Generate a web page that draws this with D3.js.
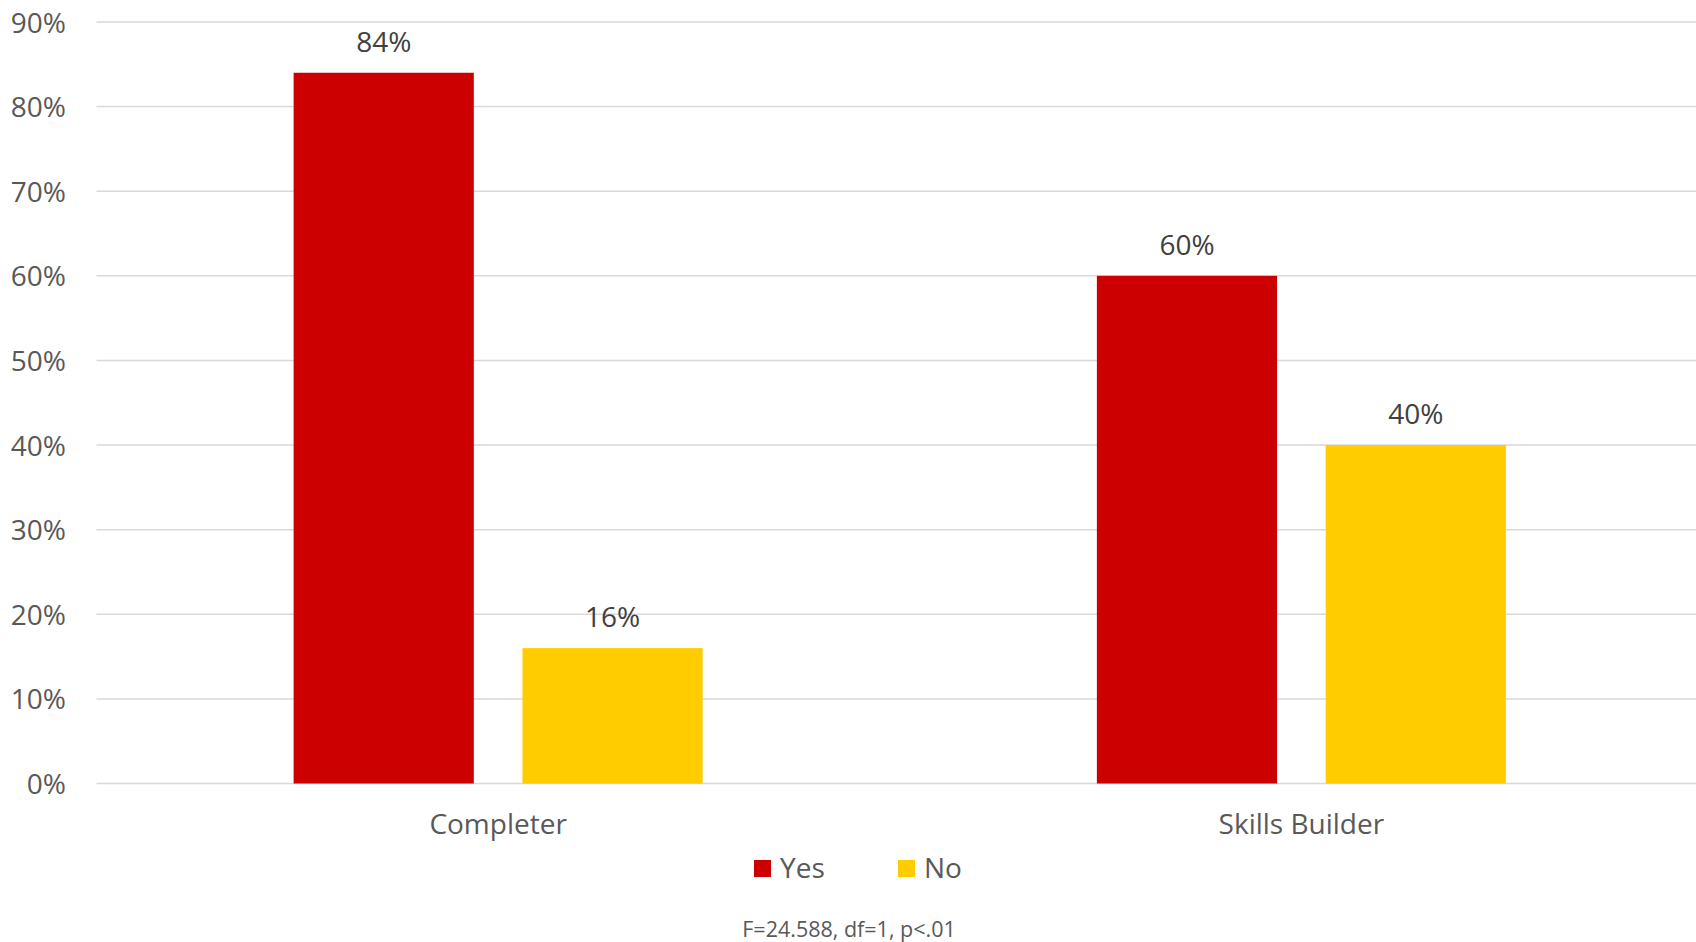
<!DOCTYPE html>
<html>
<head>
<meta charset="utf-8">
<script src="https://cdn.jsdelivr.net/npm/d3@7"></script>
<style>
  html, body { margin: 0; padding: 0; background: #fff; }
  svg { display: block; font-family: "Open Sans", "Noto Sans", sans-serif; }
</style>
</head>
<body>
<svg id="chart" width="1696" height="942"></svg>
<script>
const categories = ["Completer", "Skills Builder"];
const seriesNames = ["Yes", "No"];
const yesValues = [0.84, 0.60];
const noValues = [0.16, 0.40];
const tickValues = [0, 0.1, 0.2, 0.3, 0.4, 0.5, 0.6, 0.7, 0.8, 0.9];
const colors = ["#cc0000", "#ffcc00"];
const footnote = "F=24.588, df=1, p<.01";

const seriesValues = [yesValues, noValues];
const data = categories.map((c, i) => ({
  category: c,
  values: seriesNames.map((s, j) => ({ series: s, value: seriesValues[j][i], color: colors[j] }))
}));

const svg = d3.select("#chart");
const W = 1696;

const y = d3.scaleLinear().domain([0, 0.9]).range([783.5, 22]);
const x0 = d3.scaleBand().domain(categories).range([96.5, 1703]).paddingInner(0).paddingOuter(0);
const groupW = 409;
const x1 = d3.scaleBand().domain(seriesNames)
  .range([(x0.bandwidth() - groupW) / 2, (x0.bandwidth() + groupW) / 2])
  .paddingInner(0.2125).paddingOuter(0);

// gridlines
svg.append("g").selectAll("line").data(tickValues).join("line")
  .attr("x1", 96.5).attr("x2", W)
  .attr("y1", d => y(d)).attr("y2", d => y(d))
  .attr("stroke", "#d9d9d9").attr("stroke-width", 1.5);

// y axis labels
const yAxis = d3.axisLeft(y).tickValues(tickValues).tickFormat(d3.format(".0%")).tickSize(0).tickPadding(0);
const yg = svg.append("g").attr("transform", "translate(66,0)").call(yAxis);
yg.select(".domain").remove();
yg.selectAll("text").attr("font-size", 28).attr("fill", "#595959")
  .attr("font-family", "'Open Sans', sans-serif").attr("dy", "0.36em");

// bars
const groups = svg.append("g").selectAll("g").data(data).join("g")
  .attr("transform", d => `translate(${x0(d.category)},0)`);
groups.selectAll("rect").data(d => d.values).join("rect")
  .attr("x", d => x1(d.series)).attr("width", x1.bandwidth())
  .attr("y", d => y(d.value)).attr("height", d => y(0) - y(d.value))
  .attr("fill", d => d.color);
groups.selectAll("text").data(d => d.values).join("text")
  .attr("x", d => x1(d.series) + x1.bandwidth() / 2)
  .attr("y", d => y(d.value) - 21)
  .attr("text-anchor", "middle").attr("font-size", 28).attr("fill", "#404040")
  .text(d => d3.format(".0%")(d.value));

// x axis labels
const xAxis = d3.axisBottom(x0).tickSize(0).tickPadding(0);
const xg = svg.append("g").attr("transform", "translate(0,834)").call(xAxis);
xg.select(".domain").remove();
xg.selectAll("text").attr("font-size", 28).attr("fill", "#595959")
  .attr("font-family", "'Open Sans', sans-serif").attr("dy", 0);

// legend
const legendX = [754, 898];
const lg = svg.append("g").selectAll("g").data(seriesNames).join("g")
  .attr("transform", (d, i) => `translate(${legendX[i]},860)`);
lg.append("rect").attr("width", 17).attr("height", 17).attr("fill", (d, i) => colors[i]);
lg.append("text").attr("x", 26).attr("y", 18).attr("font-size", 28).attr("fill", "#595959").text(d => d);

// footnote
svg.append("text").attr("x", 849).attr("y", 937).attr("text-anchor", "middle")
  .attr("font-size", 21.5).attr("fill", "#595959").text(footnote);
</script>
</body>
</html>
